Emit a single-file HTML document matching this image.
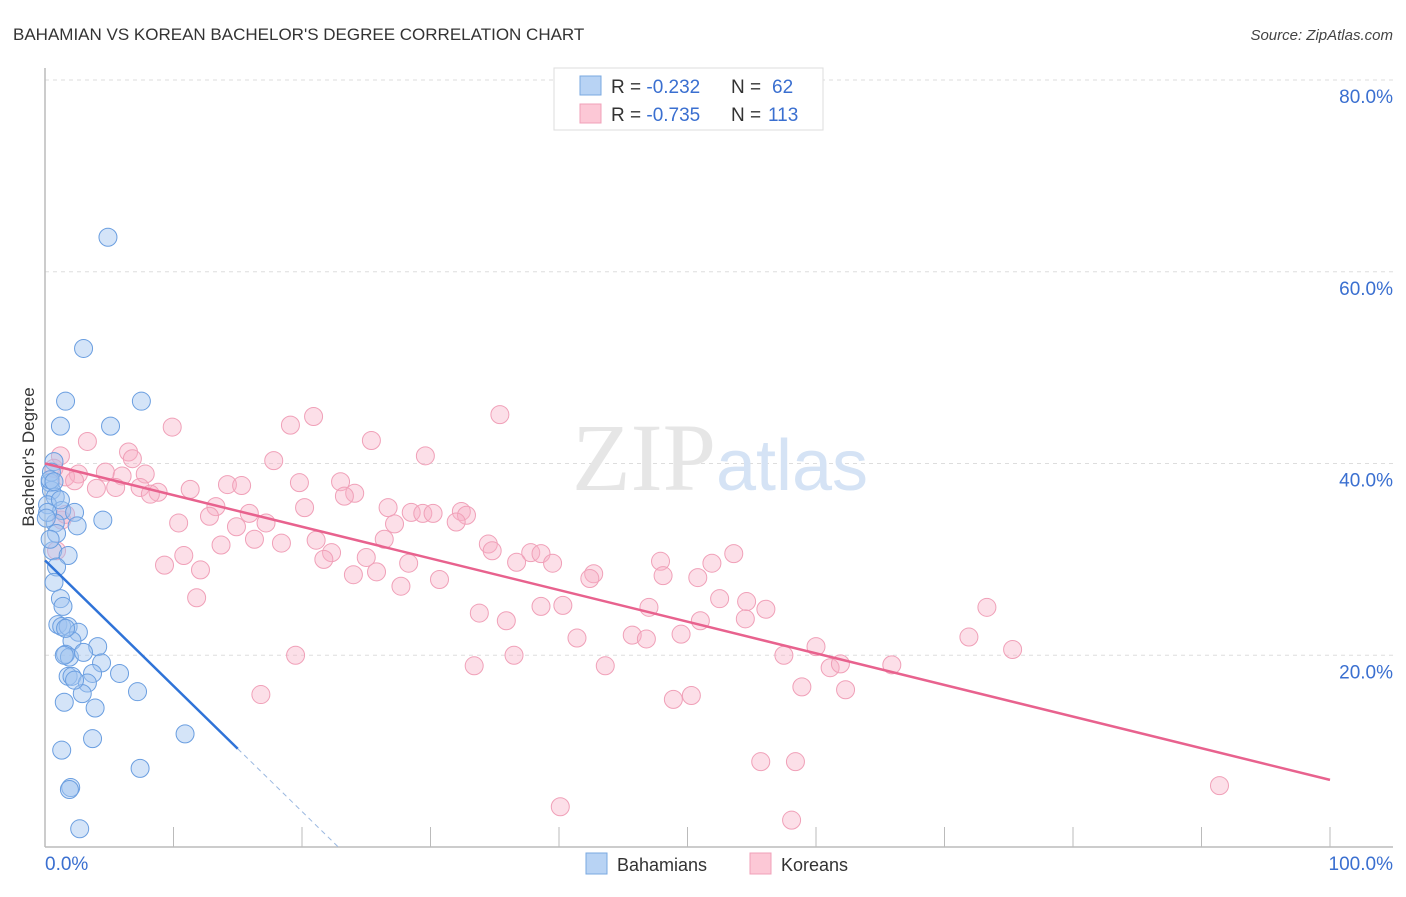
<!DOCTYPE html>
<html><head><meta charset="utf-8"><style>
body{margin:0;background:#fff;font-family:"Liberation Sans",sans-serif}
</style></head><body>
<svg id="chart" width="1406" height="892" xmlns="http://www.w3.org/2000/svg" font-family="Liberation Sans, sans-serif">
<text x="13" y="40" font-size="17" fill="#333">BAHAMIAN VS KOREAN BACHELOR'S DEGREE CORRELATION CHART</text>
<text x="1393" y="40" font-size="15" fill="#444" font-style="italic" text-anchor="end">Source: ZipAtlas.com</text>
<text transform="translate(34,457) rotate(-90)" font-size="17" fill="#333" text-anchor="middle">Bachelor's Degree</text>
<g id="grid"></g>
<text x="720" y="490" font-size="96" text-anchor="middle" fill="#e6e6e6" font-family="Liberation Serif, serif">ZIP<tspan fill="#d5e3f5" font-family="Liberation Sans, sans-serif" font-size="72">atlas</tspan></text>
<g id="pts"></g>
<g id="lines"></g>
<g>
<rect x="554" y="68" width="269" height="62" fill="#fff" stroke="#ddd"/>
<rect x="580" y="76" width="21" height="19" fill="#b8d3f4" stroke="#7aa8e0"/>
<rect x="580" y="104" width="21" height="19" fill="#fcc8d6" stroke="#f0a0b8"/>
<text x="611" y="93" font-size="19" fill="#333">R = <tspan fill="#3a6fd0">-0.232</tspan><tspan x="731">N = </tspan><tspan fill="#3a6fd0" x="772">62</tspan></text>
<text x="611" y="121" font-size="19" fill="#333">R = <tspan fill="#3a6fd0">-0.735</tspan><tspan x="731">N = </tspan><tspan fill="#3a6fd0" x="768">113</tspan></text>
</g>
<g>
<rect x="586" y="853" width="21" height="21" fill="#b8d3f4" stroke="#7aa8e0"/>
<text x="617" y="871" font-size="18" fill="#333">Bahamians</text>
<rect x="750" y="853" width="21" height="21" fill="#fcc8d6" stroke="#f0a0b8"/>
<text x="781" y="871" font-size="18" fill="#333">Koreans</text>
</g>
</svg>
<script>
const yTicks=[20,40,60,80];
const yTickLabels=["20.0%","40.0%","60.0%","80.0%"];
const xTicks=[0,10,20,30,40,50,60,70,80,90,100];
const xEndLabels=["0.0%","100.0%"];
const bahX=[4.9,3.0,1.6,7.5,1.2,5.1,0.7,0.4,0.5,0.8,0.2,1.3,2.3,4.5,0.8,2.5,0.9,0.6,1.8,0.9,0.7,1.2,1.4,1.0,1.3,1.8,2.6,2.1,4.1,1.6,1.9,3.0,4.4,5.8,3.7,1.8,2.1,3.3,2.9,7.2,1.5,3.9,3.7,1.3,10.9,7.4,2.0,1.9,2.7,0.5,0.4,0.7,0.2,0.4,0.1,1.2,1.5,2.3,1.6];
const bahY=[63.6,52.0,46.5,46.5,43.9,43.9,40.2,38.0,37.2,36.5,35.7,35.1,34.9,34.1,33.8,33.5,32.7,30.9,30.4,29.2,27.6,25.9,25.1,23.2,23.0,23.0,22.4,21.5,20.9,20.1,19.8,20.3,19.2,18.1,18.1,17.8,17.8,17.1,16.0,16.2,15.1,14.5,11.3,10.1,11.8,8.2,6.2,6.0,1.9,39.1,38.3,38.1,34.9,32.1,34.3,36.2,20.0,17.4,22.8];
const korX=[1.2,3.3,9.9,6.5,19.1,20.9,35.4,25.4,29.6,17.8,6.8,7.8,4.7,2.6,1.6,6.0,2.3,4.0,5.5,7.4,8.8,8.2,11.3,14.2,15.3,19.8,23.0,24.1,23.3,13.3,20.2,26.7,28.5,29.4,30.2,32.4,32.8,32.0,27.2,15.9,14.9,17.2,12.8,10.4,16.3,18.4,13.7,21.1,22.3,26.4,34.5,34.8,37.8,38.6,39.5,36.7,28.3,21.7,25.0,10.8,9.3,12.1,24.0,25.8,27.7,30.7,42.7,42.4,47.9,48.1,51.9,53.6,50.8,11.8,40.3,33.8,38.6,35.9,47.0,52.5,54.6,56.1,51.0,54.5,73.3,45.7,46.8,41.4,49.5,71.9,60.0,57.5,75.3,19.5,36.5,33.4,43.6,61.1,61.9,65.9,58.9,62.3,48.9,50.3,16.8,55.7,58.4,91.4,40.1,58.1,0.7,1.3,0.9,1.6];
const korY=[40.8,42.3,43.8,41.2,44.0,44.9,45.1,42.4,40.8,40.3,40.5,38.9,39.1,38.9,38.6,38.7,38.2,37.4,37.5,37.5,37.0,36.8,37.3,37.8,37.7,38.0,38.1,36.9,36.6,35.5,35.4,35.4,34.9,34.8,34.8,35.0,34.6,33.9,33.7,34.8,33.4,33.8,34.5,33.8,32.1,31.7,31.5,32.0,30.7,32.1,31.6,30.9,30.7,30.6,29.6,29.7,29.6,30.0,30.2,30.4,29.4,28.9,28.4,28.7,27.2,27.9,28.5,28.0,29.8,28.3,29.6,30.6,28.1,26.0,25.2,24.4,25.1,23.6,25.0,25.9,25.6,24.8,23.6,23.8,25.0,22.1,21.7,21.8,22.2,21.9,20.9,20.0,20.6,20.0,20.0,18.9,18.9,18.7,19.1,19.0,16.7,16.4,15.4,15.8,15.9,8.9,8.9,6.4,4.2,2.8,39.5,34.1,30.9,34.7];
const korTrend=[40.0,7.0];   // y at x=0, y at x=100
const bahTrend=[29.9,-1.31,15.0,22.8]; // intercept, slope, solid end x, dashed end x
const X=v=>45+v*12.85, Y=v=>847-v*9.5875;
const NS="http://www.w3.org/2000/svg";
function mk(t,a,p){const e=document.createElementNS(NS,t);for(const k in a)e.setAttribute(k,a[k]);p.appendChild(e);return e;}
const grid=document.getElementById('grid');
yTicks.forEach((t,i)=>{
 const l=mk('line',{x1:45,x2:1393,y1:Y(t),y2:Y(t),stroke:'#ddd','stroke-dasharray':'4,4'},grid);
 
 
 const tx=mk('text',{x:1393,y:Y(t)+23,'font-size':19,fill:'#3a6fd0','text-anchor':'end'},grid);
 tx.textContent=yTickLabels[i];
 
 
});
const ax=mk('line',{x1:45,x2:1393,y1:847,y2:847,stroke:'#bbb','stroke-width':1.5},grid);


const ay=mk('line',{x1:45,x2:45,y1:68,y2:847,stroke:'#bbb','stroke-width':1.5},grid);


xTicks.forEach(t=>{const l=mk('line',{x1:X(t),x2:X(t),y1:827,y2:847,stroke:'#bbb'},grid);
 
 });
[[0,'start',45],[1,'end',1393]].forEach(([i,a,x])=>{const t=mk('text',{x:x,y:870,'font-size':19,fill:'#3a6fd0','text-anchor':a},grid);t.textContent=xEndLabels[i];
 
 });
const pts=document.getElementById('pts');
korX.forEach((x,i)=>{const c=mk('circle',{cx:X(x),cy:Y(korY[i]),r:9,fill:'rgba(248,175,198,0.4)',stroke:'#f0a0b8','stroke-width':1},pts);
 
 });
bahX.forEach((x,i)=>{const c=mk('circle',{cx:X(x),cy:Y(bahY[i]),r:9,fill:'rgba(160,195,240,0.45)',stroke:'#6a9ee0','stroke-width':1},pts);
 
 });
const lines=document.getElementById('lines');
const kl=mk('line',{x1:X(0),y1:Y(korTrend[0]),x2:X(100),y2:Y(korTrend[1]),stroke:'#e8628e','stroke-width':2.5},lines);


const bl=mk('line',{x1:X(0),y1:Y(bahTrend[0]),x2:X(bahTrend[2]),y2:Y(bahTrend[0]+bahTrend[1]*bahTrend[2]),stroke:'#2f73d8','stroke-width':2.5},lines);


const bd=mk('line',{x1:X(bahTrend[2]),y1:Y(bahTrend[0]+bahTrend[1]*bahTrend[2]),x2:X(bahTrend[3]),y2:Y(Math.max(0,bahTrend[0]+bahTrend[1]*bahTrend[3])),stroke:'#9bb8e0','stroke-width':1,'stroke-dasharray':'5,4'},lines);


</script>
</body></html>
